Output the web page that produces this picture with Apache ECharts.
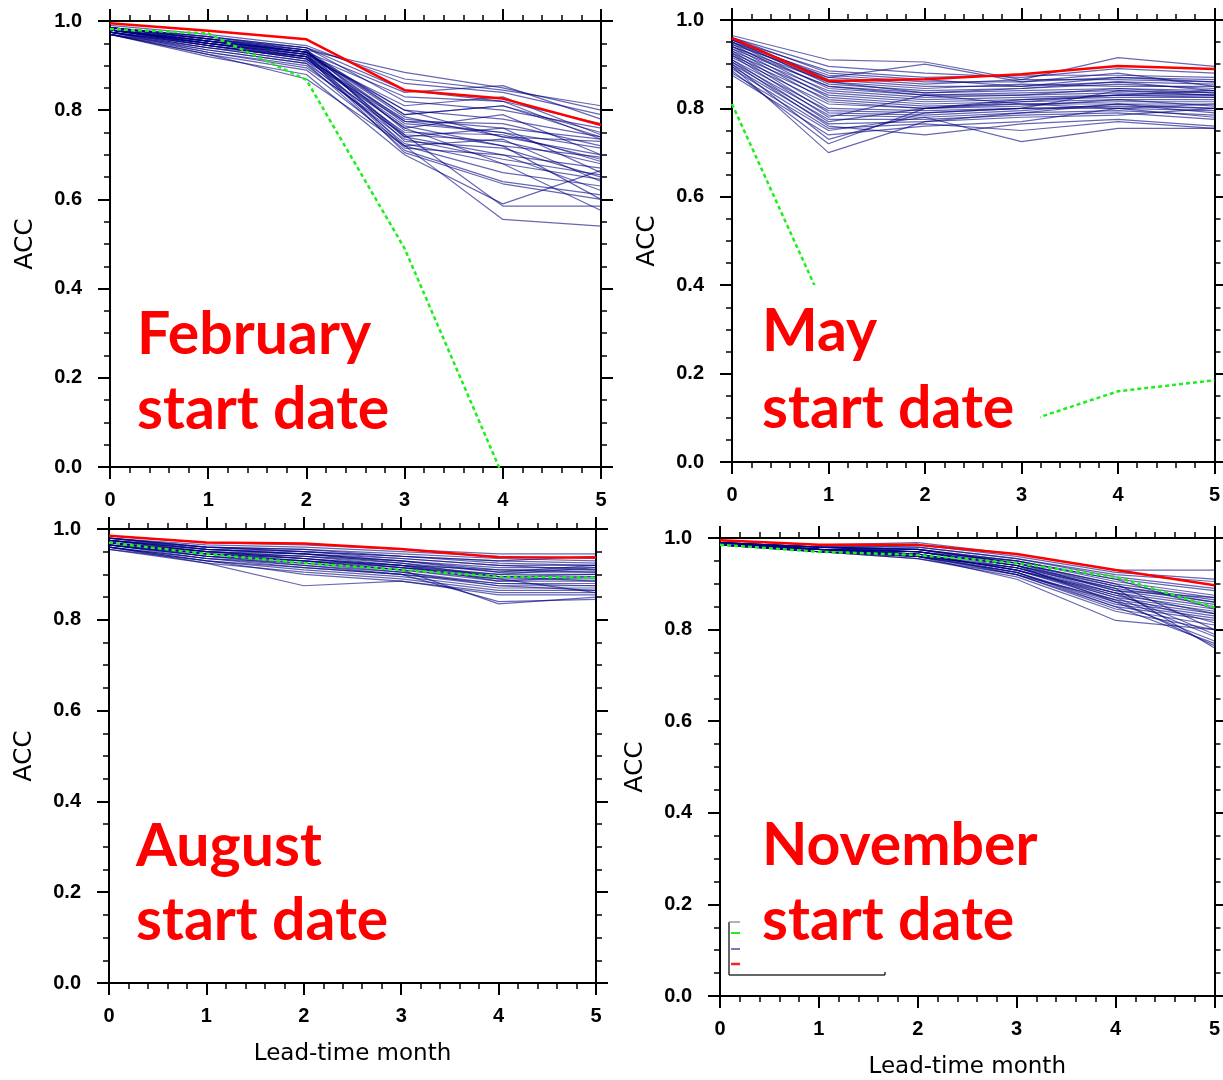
<!DOCTYPE html>
<html>
<head>
<meta charset="utf-8">
<script src="https://cdn.jsdelivr.net/npm/echarts@6/dist/echarts.min.js"></script>
<style>
html, body { margin: 0; padding: 0; background: #fff; }
#acc { width: 1223px; height: 1080px; }
</style>
</head>
<body>
<div id="acc"></div>
<script>
// lead-time months on the x axis
var leads = [0, 1, 2, 3, 4, 5];
var yTicks = [0, 0.2, 0.4, 0.6, 0.8, 1.0];
var panelTitles = ['February', 'May', 'August', 'November'];

// ensemble members (blue), one row per member, values at lead 0..5
var febMembers = [
    [.985, .965, .935, .885, .85, .80], [.98, .96, .94, .87, .845, .81],
    [.99, .97, .945, .86, .84, .79], [.985, .96, .93, .84, .855, .78],
    [.98, .955, .925, .83, .82, .77], [.985, .965, .94, .82, .80, .76],
    [.975, .95, .92, .81, .83, .745], [.98, .955, .93, .80, .78, .74],
    [.985, .96, .935, .79, .81, .74], [.975, .945, .915, .78, .76, .735],
    [.98, .95, .93, .785, .74, .73], [.97, .94, .91, .775, .77, .72],
    [.985, .96, .93, .77, .75, .715], [.975, .945, .92, .76, .79, .70],
    [.98, .955, .935, .755, .72, .695], [.97, .935, .905, .75, .745, .69],
    [.98, .95, .925, .745, .73, .68], [.975, .945, .915, .74, .70, .67],
    [.98, .955, .93, .74, .76, .66], [.97, .93, .90, .735, .69, .655],
    [.985, .96, .935, .73, .715, .65], [.975, .94, .91, .725, .68, .645],
    [.98, .95, .925, .72, .735, .64], [.97, .925, .89, .72, .66, .63],
    [.98, .945, .92, .715, .70, .62], [.975, .935, .905, .71, .64, .61],
    [.98, .95, .92, .705, .635, .60], [.97, .92, .88, .70, .59, .665],
    [.975, .93, .895, .745, .585, .585], [.98, .945, .915, .76, .68, .575],
    [.97, .925, .87, .72, .555, .54], [.985, .955, .93, .79, .81, .75],
    [.98, .95, .925, .80, .74, .70], [.975, .94, .92, .765, .72, .60],
    [.985, .965, .94, .845, .82, .735], [.98, .955, .93, .775, .75, .685]
];
var mayMembers = [
    [.965, .91, .905, .865, .915, .895], [.96, .895, .88, .87, .89, .88],
    [.955, .885, .87, .875, .875, .87], [.95, .875, .86, .86, .87, .865],
    [.945, .87, .855, .865, .865, .86], [.96, .865, .85, .85, .86, .855],
    [.94, .86, .845, .855, .85, .85], [.955, .855, .84, .845, .855, .845],
    [.935, .85, .835, .84, .845, .84], [.95, .845, .83, .835, .84, .835],
    [.93, .84, .825, .83, .835, .83], [.945, .835, .82, .825, .83, .83],
    [.925, .83, .815, .82, .825, .825], [.94, .825, .81, .815, .82, .82],
    [.92, .82, .805, .81, .815, .815], [.935, .815, .80, .81, .81, .81],
    [.915, .81, .80, .805, .82, .805], [.93, .80, .795, .80, .805, .80],
    [.91, .795, .79, .80, .80, .795], [.925, .79, .785, .795, .81, .79],
    [.905, .785, .78, .79, .795, .785], [.92, .78, .83, .81, .80, .78],
    [.90, .775, .775, .785, .79, .775], [.91, .77, .80, .82, .83, .84],
    [.895, .765, .77, .78, .785, .80], [.905, .76, .74, .765, .775, .76],
    [.89, .755, .765, .75, .77, .755], [.88, .75, .78, .725, .755, .755],
    [.875, .74, .76, .77, .80, .81], [.90, .73, .79, .80, .84, .83],
    [.885, .72, .80, .815, .83, .825], [.895, .70, .77, .79, .81, .80],
    [.955, .87, .90, .86, .88, .85], [.95, .86, .835, .845, .86, .84],
    [.96, .88, .865, .85, .87, .86], [.94, .85, .83, .83, .845, .835]
];
var augMembers = [
    [.985, .97, .965, .955, .945, .945], [.98, .965, .96, .95, .94, .935],
    [.98, .96, .955, .945, .935, .93], [.975, .96, .955, .94, .93, .925],
    [.98, .955, .95, .94, .925, .92], [.975, .955, .945, .935, .92, .92],
    [.97, .95, .945, .93, .915, .915], [.975, .95, .94, .93, .91, .91],
    [.97, .945, .94, .925, .905, .905], [.965, .945, .935, .92, .90, .90],
    [.97, .94, .93, .92, .895, .895], [.965, .94, .93, .915, .89, .89],
    [.96, .935, .925, .91, .885, .885], [.965, .935, .92, .905, .88, .88],
    [.96, .93, .915, .90, .875, .875], [.955, .93, .91, .895, .87, .87],
    [.96, .925, .905, .89, .865, .865], [.955, .925, .875, .885, .86, .86],
    [.96, .93, .90, .885, .855, .855], [.965, .94, .92, .90, .84, .845],
    [.97, .945, .93, .91, .835, .85], [.975, .95, .935, .915, .90, .915],
    [.97, .95, .94, .92, .91, .905], [.975, .955, .945, .925, .895, .90],
    [.98, .96, .95, .935, .92, .91], [.97, .945, .935, .92, .885, .895],
    [.965, .94, .925, .905, .875, .865], [.975, .955, .945, .93, .905, .92],
    [.97, .95, .935, .915, .895, .885], [.96, .935, .915, .90, .88, .875],
    [.965, .945, .93, .91, .89, .86], [.98, .96, .95, .94, .93, .94]
];
var novMembers = [
    [.995, .985, .99, .965, .93, .93], [.99, .98, .985, .96, .925, .91],
    [.995, .985, .98, .955, .92, .905], [.99, .98, .98, .955, .915, .89],
    [.99, .98, .975, .95, .91, .885], [.985, .975, .975, .95, .905, .875],
    [.99, .98, .975, .945, .90, .87], [.985, .975, .97, .945, .895, .865],
    [.99, .975, .97, .94, .89, .86], [.985, .975, .97, .94, .885, .855],
    [.99, .98, .97, .935, .88, .85], [.985, .975, .965, .935, .875, .845],
    [.99, .975, .965, .93, .87, .84], [.985, .97, .965, .93, .865, .835],
    [.99, .975, .96, .925, .86, .83], [.985, .97, .96, .925, .855, .825],
    [.99, .975, .96, .92, .85, .82], [.985, .97, .955, .92, .845, .81],
    [.99, .97, .955, .915, .84, .80], [.985, .97, .96, .91, .82, .80],
    [.99, .975, .965, .93, .88, .79], [.985, .97, .96, .935, .87, .785],
    [.99, .975, .97, .94, .86, .775], [.985, .97, .965, .925, .85, .77],
    [.99, .975, .965, .92, .865, .765], [.985, .97, .96, .935, .89, .76],
    [.99, .98, .975, .945, .90, .80], [.985, .975, .97, .94, .895, .86],
    [.99, .98, .97, .95, .91, .845], [.985, .975, .965, .93, .875, .815],
    [.99, .98, .975, .945, .885, .87], [.985, .975, .97, .94, .88, .835]
];

// red thick line
var febRed = [0.995, 0.978, 0.959, 0.845, 0.826, 0.767];
var mayRed = [0.959, 0.862, 0.866, 0.877, 0.896, 0.889];
var augRed = [0.985, 0.970, 0.968, 0.956, 0.938, 0.937];
var novRed = [0.995, 0.985, 0.985, 0.965, 0.930, 0.897];

// green dotted line
var febGreen = [0.982, 0.972, 0.868, 0.490, -0.02, -0.50];
var mayGreen = [0.810, 0.330, 0.050, 0.088, 0.160, 0.185];
var augGreen = [0.970, 0.945, 0.925, 0.910, 0.895, 0.893];
var novGreen = [0.985, 0.970, 0.963, 0.945, 0.915, 0.848];

var members = [febMembers, mayMembers, augMembers, novMembers];
var reds = [febRed, mayRed, augRed, novRed];
var greens = [febGreen, mayGreen, augGreen, novGreen];

function acc() {
    var myChart = echarts.init(document.getElementById('acc'));

    var grids = [
        { left: 110, top: 21, width: 491, height: 446 },
        { left: 732, top: 20, width: 485, height: 442 },
        { left: 109, top: 529, width: 487, height: 454 },
        { left: 720, top: 538, width: 497, height: 459 }
    ];

    var font = 'DejaVu Sans';
    var tickFont = 'Liberation Sans';
    var tickStyle = { color: '#000', width: 2 };
    var minorStyle = { color: '#000', width: 1.5 };

    var xAxes = [], yAxes = [], series = [];

    grids.forEach(function (g, gi) {
        ['bottom', 'top'].forEach(function (pos) {
            var ax = {
                gridIndex: gi,
                type: 'value',
                position: pos,
                min: 0,
                max: 5,
                interval: 1,
                axisLine: { onZero: false, lineStyle: { color: '#000', width: 2 } },
                axisTick: { length: 12, lineStyle: tickStyle },
                minorTick: { show: true, splitNumber: 5, length: 6, lineStyle: minorStyle },
                splitLine: { show: false },
                axisLabel: {
                    show: pos == 'bottom',
                    margin: 23,
                    color: '#000',
                    fontFamily: tickFont,
                    fontWeight: 'bold',
                    fontSize: 20,
                    formatter: function (v) { return leads.indexOf(v) >= 0 ? String(v) : ''; }
                }
            };
            if (pos == 'bottom' && gi >= 2) {
                ax.name = 'Lead-time month';
                ax.nameLocation = 'middle';
                ax.nameGap = 60;
                ax.nameTextStyle = { color: '#000', fontFamily: font, fontSize: 23 };
            }
            xAxes.push(ax);
        });
        ['left', 'right'].forEach(function (pos) {
            var ay = {
                gridIndex: gi,
                type: 'value',
                position: pos,
                min: 0,
                max: 1,
                interval: 0.2,
                axisLine: { onZero: false, lineStyle: { color: '#000', width: 2 } },
                axisTick: { length: 12, lineStyle: tickStyle },
                minorTick: { show: true, splitNumber: 4, length: 6, lineStyle: minorStyle },
                splitLine: { show: false },
                axisLabel: {
                    show: pos == 'left',
                    margin: 28,
                    color: '#000',
                    fontFamily: tickFont,
                    fontWeight: 'bold',
                    fontSize: 20,
                    formatter: function (v) {
                        var hit = yTicks.filter(function (t) { return Math.abs(t - v) < 1e-6; });
                        return hit.length ? hit[0].toFixed(1) : '';
                    }
                }
            };
            if (pos == 'left') {
                ay.name = 'ACC';
                ay.nameLocation = 'middle';
                ay.nameGap = 72;
                ay.nameTextStyle = { color: '#000', fontFamily: font, fontSize: 25 };
            }
            yAxes.push(ay);
        });

        var toPairs = function (row) {
            return leads.map(function (x, i) { return [x, row[i]]; });
        };

        members[gi].forEach(function (row, k) {
            series.push({
                name: panelTitles[gi] + ' member ' + (k + 1),
                type: 'line',
                xAxisIndex: gi * 2,
                yAxisIndex: gi * 2,
                data: toPairs(row),
                symbol: 'none',
                silent: true,
                lineStyle: { color: '#000080', width: 1.2, opacity: 0.6 },
                z: 2
            });
        });
        series.push({
            name: panelTitles[gi] + ' green',
            type: 'line',
            xAxisIndex: gi * 2,
            yAxisIndex: gi * 2,
            data: toPairs(greens[gi]),
            symbol: 'none',
            silent: true,
            clip: true,
            lineStyle: { color: '#1def1d', width: 2.5, type: [4, 3] },
            z: 3
        });
        series.push({
            name: panelTitles[gi] + ' red',
            type: 'line',
            xAxisIndex: gi * 2,
            yAxisIndex: gi * 2,
            data: toPairs(reds[gi]),
            symbol: 'none',
            silent: true,
            lineStyle: { color: '#ff0000', width: 2.5 },
            z: 4
        });
    });

    // red overlay labels of the slide
    var bigFont = 'bold 59px Lato';
    var labels = [
        { text: panelTitles[0], x: 137, y: 335 }, { text: 'start date', x: 137, y: 410 },
        { text: panelTitles[1], x: 762, y: 332 }, { text: 'start date', x: 762, y: 409 },
        { text: panelTitles[2], x: 136, y: 847 }, { text: 'start date', x: 136, y: 921 },
        { text: panelTitles[3], x: 762, y: 846 }, { text: 'start date', x: 762, y: 921 }
    ];
    var graphics = [
        // white text box of the May label hides part of the green curve
        { type: 'rect', shape: { x: 750, y: 285, width: 290, height: 170 }, style: { fill: '#fff' }, z: 50 }
    ];
    labels.forEach(function (l) {
        graphics.push({
            type: 'text', x: l.x, y: l.y, z: 60,
            style: { text: l.text, font: bigFont, fill: '#ff0000', verticalAlign: 'middle' }
        });
    });
    // remains of a legend box in the November panel
    var legendLines = [
        [729, 922, 729, 975, '#333', 1.5], [729, 922, 740, 922, '#999', 1.5],
        [729, 975, 885, 975, '#333', 1.5], [885, 972, 885, 975, '#333', 1.5],
        [731, 933, 740, 933, '#1def1d', 2], [731, 949, 740, 949, '#7777bb', 2],
        [731, 964, 740, 964, '#ff2020', 2.5]
    ];
    legendLines.forEach(function (s) {
        graphics.push({
            type: 'line', z: 40,
            shape: { x1: s[0], y1: s[1], x2: s[2], y2: s[3] },
            style: { stroke: s[4], lineWidth: s[5] }
        });
    });

    var option = {
        animation: false,
        backgroundColor: '#fff',
        grid: grids,
        xAxis: xAxes,
        yAxis: yAxes,
        series: series,
        graphic: graphics
    };
    myChart.setOption(option);
    window.addEventListener('resize', function () {
        myChart.resize();
    });
}

acc();
</script>
</body>
</html>
